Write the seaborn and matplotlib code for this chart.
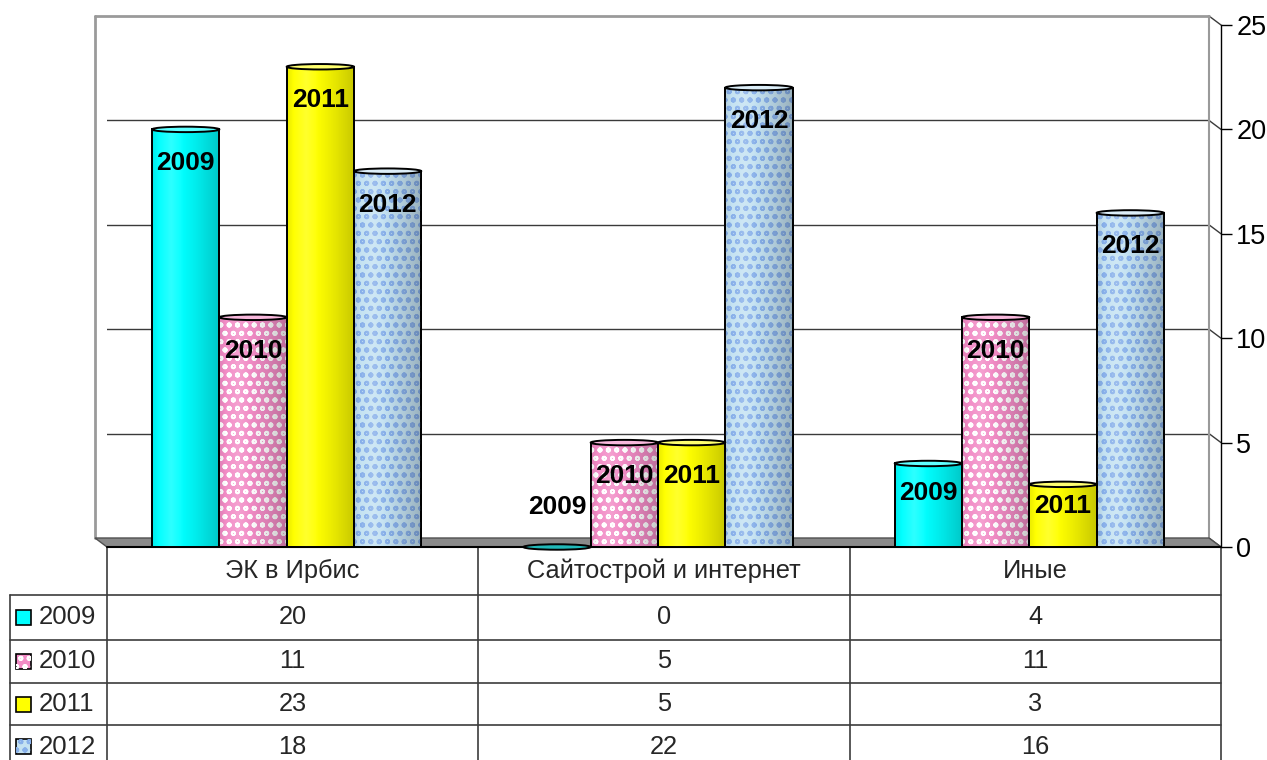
import numpy as np
import pandas as pd
import seaborn as sns
import matplotlib.pyplot as plt
from matplotlib.patches import Ellipse, Rectangle, Polygon

categories = ["ЭК в Ирбис", "Сайтострой и интернет", "Иные"]
years = ["2009", "2010", "2011", "2012"]
v2009 = [20, 0, 4]
v2010 = [11, 5, 11]
v2011 = [23, 5, 3]
v2012 = [18, 22, 16]
y_ticks = [0, 5, 10, 15, 20, 25]

colors = {"2009": "#00FFFF", "2010": "#F28CC6", "2011": "#FFFF00", "2012": "#C4E2F2"}
cap_colors = {"2009": "#60FFFF", "2010": "#F8B8DC", "2011": "#FFFF70", "2012": "#DCEEF8"}
hatch_colors = {"2010": "white", "2012": "#88B0EA"}

df = pd.DataFrame({
    "category": categories * 4,
    "year": [y for y in years for _ in categories],
    "value": v2009 + v2010 + v2011 + v2012,
})

sns.set_theme(style="white")
plt.rcParams["font.family"] = ["Liberation Sans", "DejaVu Sans"]
plt.rcParams["hatch.linewidth"] = 1.3

W, H = 1267, 760
fig = plt.figure(figsize=(W / 100, H / 100), dpi=100)
fig.patch.set_facecolor("white")

# front plane of the 3d box, in pixels
ax_l, ax_r, ax_b, ax_t = 107, 1221, 547, 25
ax = fig.add_axes([ax_l / W, (H - ax_b) / H, (ax_r - ax_l) / W, (ax_b - ax_t) / H])
ax.patch.set_alpha(0)

sns.barplot(data=df, x="category", y="value", hue="year", order=categories,
            hue_order=years, palette=colors, saturation=1, width=0.725,
            edgecolor="black", linewidth=1.3, legend=False, ax=ax, zorder=3)

# depth offset of the back wall in data units
px_x = (ax_r - ax_l) / 3
px_y = (ax_b - ax_t) / 25
dx = -12 / px_x
dy = 9 / px_y
s = 6 / px_x  # bars stand half way into the depth
xlo, xhi = -0.5 + s, 2.5 + s

# back wall, grid and floor
for t in y_ticks[1:-1]:
    ax.plot([xlo + dx, xhi + dx], [t + dy, t + dy], color="#3a3a3a", lw=1, zorder=1)
for t in y_ticks:
    ax.plot([xhi + dx, xhi], [t + dy, t], color="#3a3a3a", lw=1, zorder=1, clip_on=False)
ax.plot([xlo + dx, xhi + dx], [25 + dy, 25 + dy], color="#9a9a9a", lw=2, zorder=1, clip_on=False)
ax.plot([xlo + dx, xlo + dx], [dy, 25 + dy], color="#9a9a9a", lw=2, zorder=1, clip_on=False)
ax.plot([xhi + dx, xhi + dx], [dy, 25 + dy], color="#9a9a9a", lw=1.5, zorder=1, clip_on=False)
ax.add_patch(Polygon([(xlo, 0), (xhi, 0), (xhi + dx, dy), (xlo + dx, dy)],
                     closed=True, facecolor="#8a8a8a", edgecolor="#505050", lw=1,
                     zorder=2, clip_on=False))
ax.plot([xlo, xhi], [0, 0], color="black", lw=1.5, zorder=2.5, clip_on=False)

# cylinder shading profile
tt = np.linspace(0, 1, 80)
alpha = 0.22 * np.clip((tt - 0.4) / 0.6, 0, 1) ** 1.2 + 0.08 * np.clip((0.1 - tt) / 0.1, 0, 1)
shade = np.zeros((1, len(tt), 4))
shade[0, :, 3] = alpha
light = np.ones((1, len(tt), 4))
light[0, :, 3] = 0.18 * np.clip(1 - np.abs(tt - 0.28) / 0.2, 0, 1)

for year, cont in zip(years, ax.containers):
    for bar in cont:
        x0, w, h = bar.get_x(), bar.get_width(), bar.get_height()
        if year in hatch_colors and h > 0:
            ax.add_patch(Rectangle((x0, 0), w, h, facecolor="none", lw=0,
                                   edgecolor=hatch_colors[year], hatch="oo", zorder=3.1))
        if h > 0:
            for img in (light, shade):
                im = ax.imshow(img, extent=[x0, x0 + w, 0, h], aspect="auto",
                               zorder=3.2, interpolation="bilinear")
                im.set_clip_path(bar)
            ax.add_patch(Rectangle((x0, 0), w, h, facecolor="none",
                                   edgecolor="black", lw=1.3, zorder=3.3))
        cap_face = "#20B8B8" if h == 0 else cap_colors[year]
        ax.add_patch(Ellipse((x0 + w / 2, h), w, 0.26, facecolor=cap_face,
                             edgecolor="black", lw=1.4, zorder=3.4, clip_on=False))
        if h > 0:
            ly = h - min(1.6, 0.35 * h)
        else:
            ly = 1.9
        ax.text(x0 + w / 2, ly, year, ha="center", va="center", fontsize=19,
                fontweight="bold", color="black", zorder=5)

ax.set_xlim(xlo, xhi)
ax.set_ylim(0, 25)
ax.set_yticks(y_ticks)
ax.yaxis.tick_right()
ax.tick_params(axis="y", right=True, left=False, length=8, width=1, color="black",
               labelsize=19.5, pad=3, labelcolor="black")
ax.tick_params(axis="x", bottom=False, labelbottom=False)
ax.set_xlabel("")
ax.set_ylabel("")
for side in ["left", "top", "bottom"]:
    ax.spines[side].set_visible(False)
ax.spines["right"].set_color("black")
ax.spines["right"].set_linewidth(1)
ax.spines["right"].set_zorder(6)

# data table below the chart, in pixel coordinates
tax = fig.add_axes([0, 0, 1, 1], zorder=-1)
tax.set_xlim(0, W)
tax.set_ylim(H, 0)
tax.axis("off")
col_edges = [107, 478, 850, 1221]
row_edges = [547, 595, 640, 683, 725, 770]
line_kw = dict(color="#3c3c3c", lw=1.2)
for y in row_edges[1:-1]:
    tax.plot([10, col_edges[-1]], [y, y], **line_kw)
for x in col_edges:
    tax.plot([x, x], [row_edges[0], H], **line_kw)
tax.plot([10, 10], [row_edges[1], H], **line_kw)

col_mid = [(a + b) / 2 for a, b in zip(col_edges[:-1], col_edges[1:])]
for cx, cat in zip(col_mid, categories):
    tax.text(cx, (row_edges[0] + row_edges[1]) / 2, cat, ha="center", va="center", fontsize=18.3)
series = [v2009, v2010, v2011, v2012]
for i, (year, vals) in enumerate(zip(years, series)):
    cy = (row_edges[i + 1] + min(row_edges[i + 2], H + 8)) / 2
    tax.add_patch(Rectangle((16, cy - 7.5), 15, 15, facecolor=colors[year],
                            edgecolor="black", lw=1.2))
    if year in hatch_colors:
        tax.add_patch(Rectangle((16, cy - 7.5), 15, 15, facecolor="none", lw=0,
                                edgecolor=hatch_colors[year], hatch="oo"))
    tax.text(39, cy, year, ha="left", va="center", fontsize=18.5)
    for cx, v in zip(col_mid, vals):
        tax.text(cx, cy, str(v), ha="center", va="center", fontsize=18.3)

fig.savefig("out.png", dpi=100)
